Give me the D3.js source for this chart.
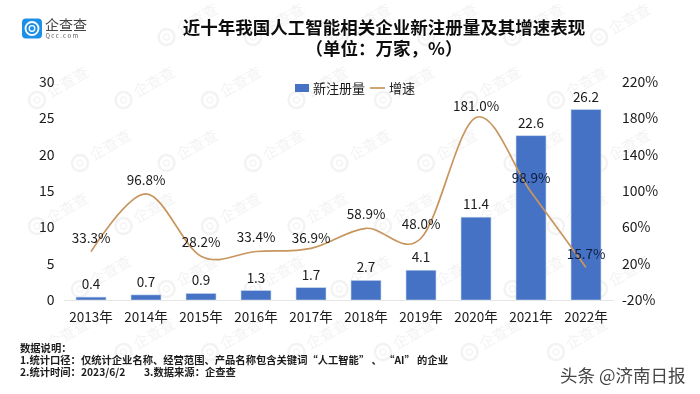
<!DOCTYPE html>
<html>
<head>
<meta charset="utf-8">
<script src="https://cdn.jsdelivr.net/npm/d3@7"></script>
<style>
html, body { margin: 0; padding: 0; background: #fff; }
svg { display: block; }
text { font-family: "Noto Sans CJK SC", "Noto Sans", sans-serif; }
</style>
</head>
<body>
<div id="chart"></div>
<script>
const years = ["2013年", "2014年", "2015年", "2016年", "2017年", "2018年", "2019年", "2020年", "2021年", "2022年"];
const registered = [0.4, 0.7, 0.9, 1.3, 1.7, 2.7, 4.1, 11.4, 22.6, 26.2];
const growth = [33.3, 96.8, 28.2, 33.4, 36.9, 58.9, 48.0, 181.0, 98.9, 15.7];
const leftTicks = [0, 5, 10, 15, 20, 25, 30];
const rightTicks = [-20, 20, 60, 100, 140, 180, 220];
const titleLines = ["近十年我国人工智能相关企业新注册量及其增速表现", "（单位：万家，%）"];
const noteLines = [
    "数据说明：",
    "1.统计口径：仅统计企业名称、经营范围、产品名称包含关键词“人工智能” 、 “AI” 的企业",
    "2.统计时间：2023/6/2        3.数据来源：企查查"
];

const width = 700, height = 394;
const margin = {left: 63.5, right: 86.5, top: 82, bottom: 94};

const svg = d3.select("#chart").append("svg")
    .attr("width", width)
    .attr("height", height);

// soft look of the original screenshot
svg.append("defs").append("filter").attr("id", "soft")
    .append("feGaussianBlur").attr("stdDeviation", 0.35);

const root = svg.append("g").attr("filter", "url(#soft)");

//watermark lattice behind everything, stamps that would run off the page or into the logo are skipped
const marks = root.append("g");
d3.range(-1, 7).forEach(row => {
    d3.range(-1, 9).forEach(col => {
        let x = 80 + col * 86.5 - (row % 2 ? 43 : 0);
        let y = 37 + row * 63;
        if (x < 12 || x > 640 || y < 30 || y > 375) return;
        if (x < 100 && y < 50) return;
        let m = marks.append("g").attr("transform", `translate(${x}, ${y}) rotate(-30)`);
        m.append("circle").attr("r", 8).attr("fill", "none").attr("stroke", "#f3f3f3").attr("stroke-width", 2.5);
        m.append("circle").attr("r", 3).attr("fill", "none").attr("stroke", "#f4f4f4").attr("stroke-width", 1.3);
        m.append("text").attr("x", 13).attr("y", 5).attr("font-size", 15)
            .attr("fill", "#f3f3f3").text("企查查");
    });
});

const xScale = d3.scaleBand()
    .domain(years)
    .range([margin.left, width - margin.right])
    .paddingInner(0.455)
    .paddingOuter(0.2275);

const yLeft = d3.scaleLinear()
    .domain([0, 30])
    .range([height - margin.bottom, margin.top]);

const yRight = d3.scaleLinear()
    .domain([-20, 220])
    .range([height - margin.bottom, margin.top]);

// bars
root.selectAll(".bar")
    .data(registered)
    .enter()
    .append("rect")
        .attr("class", "bar")
        .attr("x", (d, i) => xScale(years[i]))
        .attr("y", d => yLeft(d))
        .attr("width", xScale.bandwidth())
        .attr("height", d => yLeft(0) - yLeft(d))
        .attr("fill", "#4472c4")
        .attr("stroke", "#c5d5ee")
        .attr("stroke-width", 0.6);

// axes
const xAxis = root.append("g")
    .attr("transform", `translate(0, ${height - margin.bottom})`)
    .call(d3.axisBottom(xScale).tickSize(0).tickPadding(12));
xAxis.select(".domain").attr("stroke", "#e6e6e6").attr("stroke-width", 1.2);
xAxis.selectAll("text").attr("font-size", 13.5).attr("fill", "#1a1a1a");

const leftAxis = root.append("g")
    .attr("transform", `translate(${margin.left - 9}, 0)`)
    .call(d3.axisLeft(yLeft).tickValues(leftTicks).tickSize(0).tickPadding(0));
leftAxis.select(".domain").remove();
leftAxis.selectAll("text").attr("font-size", 14).attr("fill", "#1a1a1a");

const rightAxis = root.append("g")
    .attr("transform", `translate(${width - margin.right + 8.5}, 0)`)
    .call(d3.axisRight(yRight).tickValues(rightTicks).tickSize(0).tickPadding(0).tickFormat(d => d + "%"));
rightAxis.select(".domain").remove();
rightAxis.selectAll("text").attr("font-size", 14).attr("fill", "#1a1a1a");

// growth line
const line = d3.line()
    .x((d, i) => xScale(years[i]) + xScale.bandwidth() / 2)
    .y(d => yRight(d))
    .curve(d3.curveCardinal.tension(0));

root.append("path")
    .datum(growth)
    .attr("d", line)
    .attr("fill", "none")
    .attr("stroke", "#c8955f")
    .attr("stroke-width", 1.7);

// value labels
root.selectAll(".bar-label")
    .data(registered)
    .enter()
    .append("text")
        .attr("class", "bar-label")
        .attr("x", (d, i) => xScale(years[i]) + xScale.bandwidth() / 2)
        .attr("y", d => yLeft(d) - 8)
        .attr("text-anchor", "middle")
        .attr("font-size", 13.5)
        .attr("fill", "#1a1a1a")
        .text(d => d.toFixed(1));

// the labels of 2017 and 2020 sit closer to the line than the others
const labelDrop = {"2017年": 4, "2020年": 3};

root.selectAll(".growth-label")
    .data(growth)
    .enter()
    .append("text")
        .attr("class", "growth-label")
        .attr("x", (d, i) => xScale(years[i]) + xScale.bandwidth() / 2)
        .attr("y", (d, i) => yRight(d) - 9 + (labelDrop[years[i]] || 0))
        .attr("text-anchor", "middle")
        .attr("font-size", 13.5)
        .attr("fill", (d, i) => i >= 8 ? "#0f1c3c" : "#1a1a1a")
        .text(d => d.toFixed(1) + "%");

// legend
root.append("rect").attr("x", 295).attr("y", 84).attr("width", 14).attr("height", 8).attr("fill", "#4472c4");
root.append("text").attr("x", 313).attr("y", 93).attr("font-size", 13).attr("fill", "#1a1a1a").text("新注册量");
root.append("line").attr("x1", 370).attr("x2", 385).attr("y1", 88).attr("y2", 88)
    .attr("stroke", "#c8955f").attr("stroke-width", 1.7);
root.append("text").attr("x", 389).attr("y", 93).attr("font-size", 13).attr("fill", "#1a1a1a").text("增速");

// title
root.selectAll(".title")
    .data(titleLines)
    .enter()
    .append("text")
        .attr("class", "title")
        .attr("x", 384)
        .attr("y", (d, i) => 34 + i * 21)
        .attr("text-anchor", "middle")
        .attr("font-size", 17.5)
        .attr("font-weight", 700)
        .attr("fill", "#111")
        .text(d => d);

// footnote
root.selectAll(".note")
    .data(noteLines)
    .enter()
    .append("text")
        .attr("class", "note")
        .attr("x", 20)
        .attr("y", (d, i) => 352 + i * 12)
        .attr("font-size", 10.3)
        .attr("font-weight", 700)
        .attr("fill", "#1c1c1c")
        .style("white-space", "pre")
        .text(d => d);

// logo
const logo = root.append("g");
logo.append("rect").attr("x", 22).attr("y", 18.5).attr("width", 20).attr("height", 20).attr("rx", 4).attr("fill", "#1e90e8");
logo.append("circle").attr("cx", 32).attr("cy", 28.5).attr("r", 6.5).attr("fill", "none").attr("stroke", "#fff").attr("stroke-width", 1.8);
logo.append("circle").attr("cx", 32).attr("cy", 28.5).attr("r", 2.8).attr("fill", "none").attr("stroke", "#fff").attr("stroke-width", 1.3);
logo.append("text").attr("x", 45).attr("y", 30).attr("font-size", 14).attr("fill", "#444").text("企查查");
logo.append("text").attr("x", 45.5).attr("y", 38).attr("font-size", 6).attr("letter-spacing", 1.4).attr("fill", "#555").text("Qcc.com");

// source stamp
root.append("text")
    .attr("x", 560)
    .attr("y", 382)
    .attr("font-size", 17.5)
    .attr("fill", "#444")
    .text("头条 @济南日报");
</script>
</body>
</html>
